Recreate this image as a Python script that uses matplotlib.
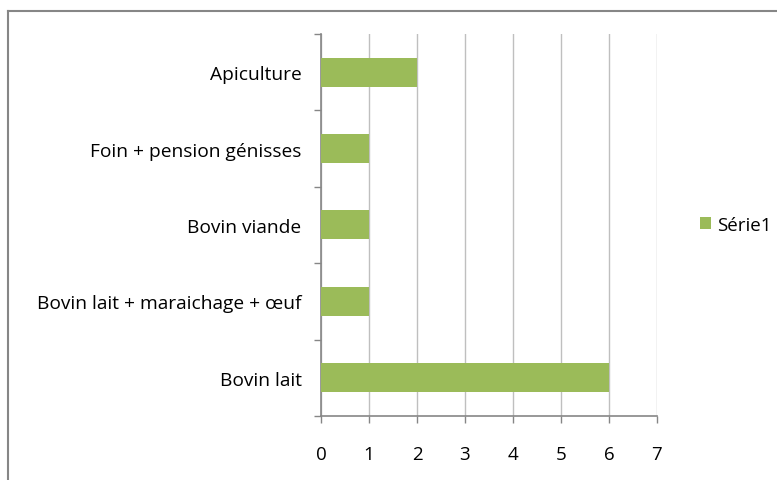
import matplotlib.pyplot as plt
from matplotlib.lines import Line2D

categories = ['Bovin lait', 'Bovin lait + maraichage + œuf', 'Bovin viande',
              'Foin + pension génisses', 'Apiculture']
values = [6, 1, 1, 1, 2]
series_name = 'Série1'

plt.rcParams['font.family'] = ['Open Sans', 'DejaVu Sans']

fig = plt.figure(figsize=(7.77, 4.81), dpi=100)
ax = fig.add_axes([0.4131, 0.1331, 0.4324, 0.7942])

pos = range(len(categories))
ax.barh(pos, values, height=0.38, color='#9BBB59', label=series_name, zorder=3)

ax.set_xlim(0, 7)
ax.set_ylim(-0.5, len(categories) - 0.5)
ax.set_xticks(range(8))
ax.xaxis.grid(True, color='#BFBFBF', linewidth=1)
ax.set_axisbelow(True)

# labels at the band centres, tick marks at the band boundaries
ax.set_yticks(list(pos))
ax.set_yticklabels(categories, fontsize=13.8)
ax.set_yticks([i - 0.5 for i in range(len(categories) + 1)], minor=True)
ax.tick_params(axis='y', which='major', length=0, pad=14)
ax.tick_params(axis='y', which='minor', length=5, width=1, color='#868686', direction='out')
ax.tick_params(axis='x', length=5, width=1, color='#868686', direction='out',
               pad=16, labelsize=13.5)

for s in ['top', 'right']:
    ax.spines[s].set_visible(False)
for s in ['left', 'bottom']:
    ax.spines[s].set_color('#868686')
    ax.spines[s].set_linewidth(1.2)

ax.legend(loc='center left', bbox_to_anchor=(1.105, 0.5), frameon=False,
          fontsize=13.5, handlelength=0.6, handleheight=0.6, handletextpad=0.3,
          borderaxespad=0)

# outer chart frame
fig.add_artist(Line2D([8 / 777, 8 / 777], [0, 1 - 12 / 481], transform=fig.transFigure,
                      color='#868686', linewidth=1.5))
fig.add_artist(Line2D([8 / 777, 1], [1 - 12 / 481, 1 - 12 / 481], transform=fig.transFigure,
                      color='#868686', linewidth=1.5))

fig.savefig('out.png', dpi=100)
